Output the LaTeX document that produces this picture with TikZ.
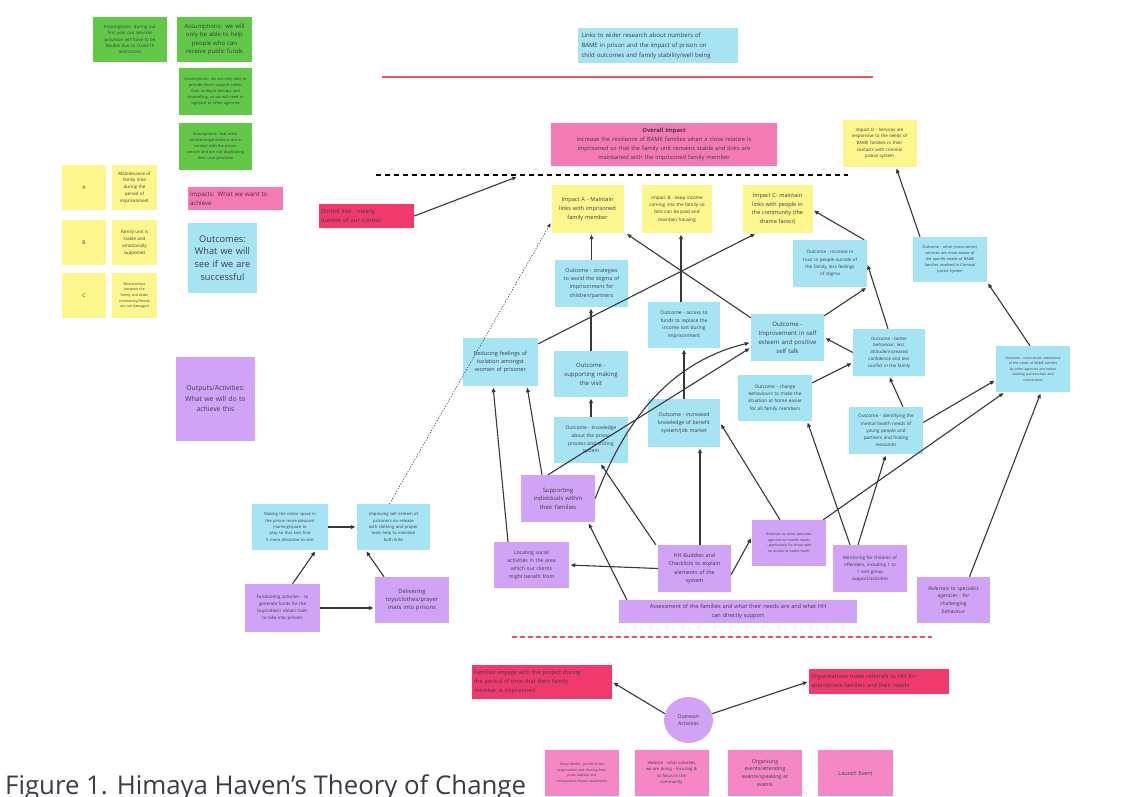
\documentclass[tikz,border=0pt]{standalone}
\usepackage{fontspec}
\setmainfont{Open Sans}
\usetikzlibrary{arrows.meta,shapes.geometric}
\definecolor{cgreen}{RGB}{98,200,72}
\definecolor{cyel}{RGB}{252,246,140}
\definecolor{ccyan}{RGB}{166,228,244}
\definecolor{cpurp}{RGB}{208,163,246}
\definecolor{cpinkA}{RGB}{243,122,178}
\definecolor{cpinkB}{RGB}{240,58,110}
\definecolor{cpinkC}{RGB}{245,136,196}
\definecolor{credl}{RGB}{238,84,92}
\definecolor{ctxt}{RGB}{60,60,72}
\definecolor{cline}{RGB}{55,55,60}
\tikzset{
  note/.style={inner sep=1pt, align=center, text=ctxt, execute at begin node={\hyphenpenalty=10000\exhyphenpenalty=10000}},
  sz/.style n args={3}{minimum width=#1pt, minimum height=#2pt, text width=#3pt},
  fs/.style 2 args={font=\fontsize{#1}{#2}\selectfont},
  arr/.style={draw=cline, line width=1.1pt, shorten >=1.5pt, -{Triangle[length=4.5pt,width=3.8pt]}},
  dotarr/.style={draw=cline, line width=0.6pt, dash pattern=on 1.2pt off 1.6pt, shorten >=1.5pt, -{Triangle[length=4pt,width=3.4pt]}},
}
\begin{document}
\begin{tikzpicture}[x=1pt,y=-1pt]
\useasboundingbox[fill=white] (0,0) rectangle (1128,796);

% ---------- green assumptions ----------
\node[note, fill=cgreen, sz={74}{45}{66}, fs={4.4}{6.3}] (g1) at (130,39.5) {Assumptions: during our\\first year our services\\provision will have to be\\flexible due to Covid-19\\restrictions};
\node[note, fill=cgreen, sz={75}{45}{70}, fs={6}{8.6}] (g2) at (214.5,39.5) {Assumptions: we will\\only be able to help\\people who can\\receive public funds};
\node[note, fill=cgreen, sz={73}{47}{69}, fs={3.9}{6.2}] (g3) at (215.5,91.5) {Assumptions: we are only able to\\provide direct support rather\\than in-depth therapy and\\counselling, so we will need to\\signpost to other agencies};
\node[note, fill=cgreen, sz={73}{47}{69}, fs={3.9}{6.2}] (g4) at (215.5,146.5) {Assumptions: that other\\services/organisations are in\\contact with the prison\\service and are not duplicating\\their core provision};

% ---------- yellow key ----------
\node[note, fill=cyel, sz={44}{45}{38}, fs={5}{7}] (ya) at (84,187.5) {A};
\node[note, fill=cyel, sz={45}{45}{43}, fs={4.4}{6.8}] (yat) at (134.5,187.5) {Maintenance of\\family links\\during the\\period of\\imprisonment};
\node[note, fill=cyel, sz={44}{45}{38}, fs={5}{7}] (yb) at (84,242.5) {B};
\node[note, fill=cyel, sz={45}{45}{43}, fs={4.4}{7}] (ybt) at (134.5,242.5) {Family unit is\\stable and\\emotionally\\supported};
\node[note, fill=cyel, sz={44}{45}{38}, fs={5}{7}] (yc) at (84,295.5) {C};
\node[note, fill=cyel, sz={45}{45}{43}, fs={3.5}{5.6}] (yct) at (134.5,295.5) {Relationships\\between the\\family and wider\\community/friends\\are not damaged};

% ---------- legend ----------
\node[note, fill=cpinkA, sz={95}{23}{91}, align=left, fs={6.2}{8.6}] (impl) at (235.5,198.5) {Impacts: What we want to\\achieve};
\node[note, fill=ccyan, sz={69}{70}{66}, fs={9.2}{12.8}] (outl) at (222.5,258) {Outcomes:\\What we will\\see if we are\\successful};
\node[note, fill=cpurp, sz={79}{84}{76}, fs={6.8}{10.5}] (actl) at (215.5,399) {Outputs/Activities:\\What we will do to\\achieve this};

% ---------- top ----------
\node[note, fill=ccyan, sz={160}{35}{152}, align=left, fs={6}{10}] (links) at (657.5,45.5) {Links to wider research about numbers of\\BAME in prison and the impact of prison on\\child outcomes and family stability/well being};
\draw[credl, line width=2.2pt] (382,77) -- (873,77);
\node[note, fill=cpinkA, sz={226}{43}{222}, fs={5.8}{9}] (overall) at (664,144.5) {\textbf{Overall Impact}\\Increase the resilience of BAME families when a close relative is\\imprisoned so that the family unit remains stable and links are\\maintained with the imprisoned family member};
\draw[black, line width=2.8pt, dash pattern=on 5pt off 4pt] (376,175) -- (848,175);
\coordinate (dl) at (518,176.5);
\node[note, fill=cpinkB, sz={95}{24}{91}, align=left, fs={5.8}{8.4}] (dotbox) at (366.5,216) {Dotted line - mainly\\outside of our control};
\node[note, fill=cyel, sz={74}{47}{72}, fs={4.4}{6.6}] (impD) at (879.5,143.5) {Impact D - Services are\\responsive to the needs of\\BAME families in their\\contacts with criminal\\justice system};

% ---------- impacts ----------
\node[note, fill=cyel, sz={72}{48}{70}, fs={5.6}{9}] (impA) at (587.5,209) {Impact A - Maintain\\links with imprisoned\\family member};
\node[note, fill=cyel, sz={70}{48}{68}, fs={4.6}{7.2}] (impB) at (677,209) {Impact B - keep income\\coming into the family so\\bills can be paid and\\maintain housing};
\node[note, fill=cyel, sz={70}{48}{68}, fs={5.5}{8.6}] (impC) at (777.5,209) {Impact C- maintain\\links with people in\\the community (the\\shame factor)};

% ---------- outcomes ----------
\node[note, fill=ccyan, sz={73}{47}{71}, fs={5.3}{8.2}] (strat) at (591.5,283.5) {Outcome - strategies\\to avoid the stigma of\\imprisonment for\\children/partners};
\node[note, fill=ccyan, sz={72}{46}{70}, fs={4.9}{7.6}] (funds) at (684,325) {Outcome - access to\\funds to replace the\\income lost during\\imprisonment};
\node[note, fill=ccyan, sz={74}{47}{72}, fs={4.5}{7.2}] (trust) at (830,263.5) {Outcome - increase in\\trust in people outside of\\the family, less feelings\\of stigma};
\node[note, fill=ccyan, sz={74}{45}{72}, fs={3.8}{5.9}] (other) at (950,259.5) {Outcome - other (cross-sector)\\services are more aware of\\the specific needs of BAME\\families involved in Criminal\\Justice System};
\node[note, fill=ccyan, sz={73}{47}{71}, fs={6.1}{9}] (esteem) at (787.5,337.5) {Outcome -\\Improvement in self\\esteem and positive\\self talk};
\node[note, fill=ccyan, sz={72}{47}{70}, fs={4.4}{6.8}] (better) at (889,352.5) {Outcome - better\\behaviour, less\\attitude/increased\\confidence and less\\conflict in the family};
\node[note, fill=ccyan, sz={74}{46}{72}, fs={4.7}{7.3}] (change) at (775,398) {Outcome - change\\behaviours to make the\\situation at home easier\\for all family members};
\node[note, fill=ccyan, sz={74}{47}{72}, fs={4.6}{7.2}] (ident) at (886,430.5) {Outcome - identifying the\\mental health needs of\\young people and\\partners and finding\\resources};
\node[note, fill=ccyan, sz={74}{46}{72}, fs={3.4}{5.5}] (far) at (1033,369) {Outcome - cross-sector awareness\\of the needs of BAME families\\by other agencies and better\\working partnerships and\\connections};
\node[note, fill=ccyan, sz={75}{48}{73}, fs={5.6}{8.4}] (reduce) at (500.5,362) {Reducing feelings of\\isolation amongst\\women of prisoner};
\node[note, fill=ccyan, sz={74}{46}{72}, fs={6}{9}] (visit) at (591,374) {Outcome -\\supporting making\\the visit};
\node[note, fill=ccyan, sz={74}{46}{72}, fs={4.9}{7.6}] (know) at (591,440) {Outcome - knowledge\\about the prison\\process and visiting\\system};
\node[note, fill=ccyan, sz={72}{48}{70}, fs={5.2}{8}] (benef) at (684,423) {Outcome - increased\\knowledge of benefit\\system/job market};

% ---------- activities ----------
\node[note, fill=cpurp, sz={74}{47}{72}, fs={5.9}{8.6}] (sup) at (558,498.5) {Supporting\\individuals within\\their families};
\node[note, fill=cpurp, sz={75}{46}{73}, fs={5.1}{7.8}] (locate) at (531.5,565) {Locating social\\activities in the area\\which our clients\\might benefit from};
\node[note, fill=cpurp, sz={73}{47}{71}, fs={5.4}{8.2}] (hh) at (694.5,568.5) {HH Buddies and\\Checklists to explain\\elements of the\\system};
\node[note, fill=cpurp, sz={74}{46}{72}, fs={3.5}{5.6}] (refO) at (789,543) {Referrals to other specialist\\agencies to handle issues\\- particularly for those with\\no access to public funds};
\node[note, fill=cpurp, sz={74}{47}{72}, fs={4.5}{7}] (mentor) at (870,568.5) {Mentoring for children of\\offenders, including 1 to\\1 and group\\support/activities};
\node[note, fill=cpurp, sz={73}{46}{71}, fs={5}{7.8}] (refS) at (953.5,600) {Referrals to specialist\\agencies - for\\challenging\\behaviour};
\node[note, fill=cpurp, sz={238}{23}{234}, fs={5.6}{8.4}] (assess) at (738,611.5) {Assessment of the families and what their needs are and what HH\\can directly support};

% ---------- bottom left ----------
\node[note, fill=ccyan, sz={76}{46}{74}, fs={4.1}{6.4}] (making) at (290,527) {Making the visitor space in\\the prison more pleasant\\(naming/space to play so that kids find\\it more attractive to visit};
\node[note, fill=ccyan, sz={73}{46}{71}, fs={4.2}{6.4}] (impr) at (393.5,527) {Improving self esteem of\\prisoners on release\\with clothing and proper\\tools help to maintain\\both links};
\node[note, fill=cpurp, sz={75}{48}{73}, fs={4.4}{6.8}] (fund) at (282.5,608) {Fundraising activities - to\\generate funds for the\\buy/collect/ obtain tools\\to take into prisons};
\node[note, fill=cpurp, sz={74}{46}{72}, fs={5.8}{8.4}] (deliv) at (412,600) {Delivering\\toys/clothes/prayer\\mats into prisons};

% ---------- outreach ----------
\draw[credl, line width=1.3pt, dash pattern=on 5pt off 3pt] (512,637) -- (932,637);
\node[note, fill=cpinkB, sz={140}{34}{136}, align=left, fs={5.7}{8.6}] (fam) at (542,682) {Families engage with the project during\\the period of time that their family\\member is imprisoned};
\node[note, fill=cpinkB, sz={140}{25}{136}, align=left, fs={5.7}{8.6}] (org) at (879,681.5) {Organisations make referrals to HH for\\appropriate families and their needs};
\node[note, ellipse, fill=cpurp, minimum width=49pt, minimum height=46pt, inner sep=0pt, fs={5}{7.2}] (out) at (688.5,720) {Outreach\\Activities};
\node[note, fill=cpinkC, sz={74}{46}{72}, fs={3.4}{5.4}] (social) at (582,773) {Social Media - profile of the\\organisation and sharing links,\\posts website and\\comparative impact statements};
\node[note, fill=cpinkC, sz={74}{46}{72}, fs={4.2}{6.4}] (web) at (671.5,773) {Website - what activities\\we are doing - focusing \&\\to focus in the\\community};
\node[note, fill=cpinkC, sz={74}{46}{72}, fs={5.2}{7.8}] (events) at (765,773) {Organising\\events/attending\\events/speaking at\\events};
\node[note, fill=cpinkC, sz={75}{46}{73}, fs={5.4}{8}] (launch) at (855.5,773) {Launch Event};

\node[anchor=base west, inner sep=0pt, text=ctxt, font=\fontsize{25.8}{26}\selectfont] (cap) at (5,794) {Figure 1. Himaya Haven's Theory of Change};

% ---------- connectors ----------
\draw[arr] (dotbox.east) -- (dl);
\draw[dotarr] ([xshift=-4pt]impr.north) -- ([yshift=-13pt]impA.west);
\draw[arr] (strat.north) -- (strat.north |- impA.south);
\draw[arr] (visit.north) -- (visit.north |- strat.south);
\draw[arr] (know.north) -- (know.north |- visit.south);
\draw[arr] ([yshift=-6pt]reduce.north east) -- ([xshift=14pt]impC.south west);
\draw[arr] ([yshift=-4pt]esteem.north west) -- ([xshift=2pt]impA.south east);
\draw[arr] ([xshift=-3pt]funds.north) -- ([xshift=-3pt]funds.north |- impB.south);
\draw[arr] (benef.north) -- (funds.south);
\draw[arr] ([xshift=-3pt]trust.north east) -- ([yshift=-1pt]impC.east);
\draw[arr] ([xshift=-30pt]other.north) -- ([xshift=16.5pt]impD.south);
\draw[arr] ([xshift=-3pt]far.north) -- (other.south east);
\draw[arr] ([yshift=-2pt]esteem.north east) -- (trust.south east);
\draw[arr] ([xshift=-1pt]better.north) -- (trust.east);
\draw[arr] (better.west) -- (esteem.east);
\draw[arr] ([yshift=-8pt]change.north east) -- ([yshift=-10pt]better.west);
\draw[arr] ([xshift=17pt]ident.north) -- (better.south);
\draw[arr] ([yshift=8pt]ident.east) -- ([yshift=-11pt]far.west);
\draw[arr] ([xshift=-3pt]refO.north east) -- ([xshift=9pt]far.south west);
\draw[arr] ([xshift=16pt]refS.north) -- ([xshift=8pt]far.south);
\draw[arr] ([xshift=-12pt]mentor.north) -- (ident.south);
\draw[arr] ([xshift=-20pt]mentor.north) -- ([xshift=-5pt]change.south east);
\draw[arr] ([xshift=-9pt]refO.north) -- (benef.east);
\draw[arr] ([xshift=-23.5pt]locate.north) -- ([xshift=-7.5pt]reduce.south);
\draw[arr] ([xshift=-16pt]sup.north) -- ([xshift=26.5pt]reduce.south);
\draw[arr] ([xshift=-10pt]sup.north) -- ([yshift=-10pt]esteem.west);
\draw[arr] (sup.east) .. controls (625,420) and (670,362) .. ([yshift=-5pt]esteem.west);
\draw[arr] ([xshift=-2pt]hh.north west) -- ([xshift=-28pt]know.south east);
\draw[arr] ([xshift=5.5pt]hh.north) -- ([xshift=16pt]benef.south);
\draw[arr] (hh.west) -- (locate.east);
\draw[arr] ([yshift=-6pt]hh.east) -- ([yshift=6pt]refO.west);
\draw[arr] ([xshift=8pt]assess.north west) -- ([xshift=30pt]sup.south);
\draw[arr] (making.east) -- (impr.west);
\draw[arr] ([xshift=10pt]fund.north) -- ([xshift=26pt]making.south);
\draw[arr] (fund.east) -- (fund.east -| deliv.west);
\draw[arr] ([xshift=-28pt]deliv.north) -- ([xshift=-28pt]impr.south);
\draw[arr] (out.165) -- (fam.east);
\draw[arr] (out.15) -- (org.west);
\end{tikzpicture}
\end{document}
